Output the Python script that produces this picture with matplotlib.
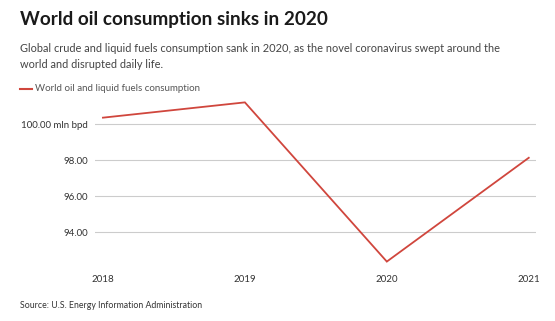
import matplotlib.pyplot as plt

years = [2018, 2019, 2020, 2021]
consumption = [100.37, 101.22, 92.37, 98.14]
yticks = [94, 96, 98, 100]
ytick_labels = ["94.00", "96.00", "98.00", "100.00 mln bpd"]

W, H = 555, 321
fig = plt.figure(figsize=(W / 100, H / 100), dpi=100)
plt.rcParams["font.family"] = ["Lato", "DejaVu Sans"]

ax = fig.add_axes([95 / W, 1 - 265 / H, (536 - 95) / W, (265 - 95) / H])
red = "#d0463d"
ax.plot(years, consumption, color=red, lw=1.3, solid_joinstyle="miter")

ax.set_xlim(2017.944, 2021.051)
ax.set_ylim(92.18, 101.63)
ax.set_yticks(yticks)
ax.set_yticklabels(ytick_labels)
ax.set_xticks(years)
ax.set_xticklabels([str(y) for y in years])
ax.grid(axis="y", color="#cccccc", lw=0.8)
ax.set_axisbelow(True)
for s in ax.spines.values():
    s.set_visible(False)
ax.tick_params(axis="both", length=0, labelsize=7, labelcolor="#333333")
ax.tick_params(axis="y", pad=5)
ax.tick_params(axis="x", pad=7)

fig.text(20 / W, 1 - 19 / H, "World oil consumption sinks in 2020",
         fontsize=13.6, fontweight="bold", color="#1a1a1a", va="center")
fig.text(20 / W, 1 - 56.5 / H,
         "Global crude and liquid fuels consumption sank in 2020, as the novel coronavirus swept around the\nworld and disrupted daily life.",
         fontsize=7.9, color="#444444", va="center", linespacing=1.45)
fig.lines.append(plt.Line2D([20 / W, 32 / W], [1 - 89 / H, 1 - 89 / H],
                            transform=fig.transFigure, color=red, lw=1.5))
fig.text(35 / W, 1 - 89 / H, "World oil and liquid fuels consumption",
         fontsize=7, color="#555555", va="center")
fig.text(20 / W, 1 - 305 / H, "Source: U.S. Energy Information Administration",
         fontsize=6.3, color="#333333", va="center")

fig.savefig("out.png", dpi=100)
